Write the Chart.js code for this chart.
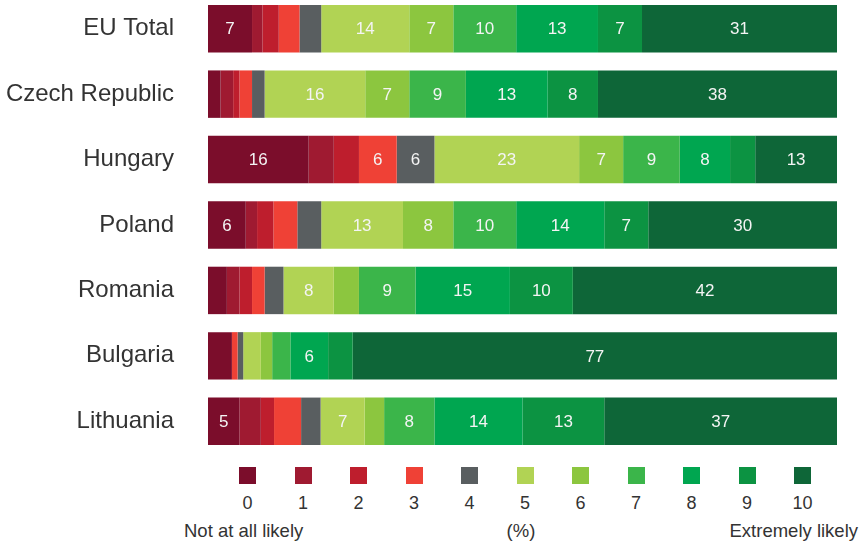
<!DOCTYPE html>
<html>
<head>
<meta charset="utf-8">
<script src="https://cdn.jsdelivr.net/npm/chart.js@4"></script>
<style>
  html, body { margin: 0; padding: 0; background: #fff; }
  body { width: 862px; height: 543px; position: relative; overflow: hidden; font-family: "Liberation Sans", Arial, sans-serif; color: #333; }
  #wrap { position: absolute; left: 0; top: -4px; width: 862px; height: 458px; }
  .key { position: absolute; top: 467px; width: 17px; height: 17px; }
  .num { position: absolute; top: 494px; width: 40px; text-align: center; font-size: 18px; line-height: 18px; }
  .foot { position: absolute; top: 522px; font-size: 18.5px; line-height: 18.5px; white-space: nowrap; }
</style>
</head>
<body>
<div id="wrap"><canvas id="likelyChart"></canvas></div>
<div id="legend"></div>
<div class="foot" style="left:184px">Not at all likely</div>
<div class="foot" style="left:521px; transform:translateX(-50%)">(%)</div>
<div class="foot" style="right:4px">Extremely likely</div>

<script>
// score 0 (not at all likely) .. 10 (extremely likely)
const scores = ["0", "1", "2", "3", "4", "5", "6", "7", "8", "9", "10"];
const countries = ["EU Total", "Czech Republic", "Hungary", "Poland", "Romania", "Bulgaria", "Lithuania"];

// share of answers per score, %
const euTotal   = [7, 1.65, 2.6, 3.3, 3.45, 14, 7, 10, 13, 7, 31];
const czech     = [2, 2, 1, 2, 2, 16, 7, 9, 13, 8, 38];
const hungary   = [16, 4, 4, 6, 6, 23, 7, 9, 8, 4, 13];
const poland    = [6, 1.8, 2.6, 3.8, 3.8, 13, 8, 10, 14, 7, 30];
const romania   = [3, 2, 2, 2, 3, 8, 4, 9, 15, 10, 42];
const bulgaria  = [3.8, 0, 0, 0.9, 0.9, 2.8, 1.8, 2.9, 6, 3.9, 77];
const lithuania = [5, 3.4, 2.1, 4.3, 3.1, 7, 3.1, 8, 14, 13, 37];

const rows = [euTotal, czech, hungary, poland, romania, bulgaria, lithuania];

const colors = ["#7b0d2b", "#9f1a31", "#be1e2d", "#ef4136", "#595e60",
                "#b1d354", "#8cc63f", "#3bb54a", "#00a650", "#0c9342", "#0e6638"];

// one dataset per score, stacked across each country bar
const datasets = scores.map((s, i) => ({
    label: s,
    data: rows.map(r => r[i]),
    backgroundColor: colors[i],
    borderWidth: 0,
    categoryPercentage: 1,
    barPercentage: 0.725
}));

// white value labels inside the wider segments
const segmentLabels = {
    id: "segmentLabels",
    afterDatasetsDraw(chart) {
        const ctx = chart.ctx;
        ctx.save();
        ctx.font = "17px 'Liberation Sans', Arial, sans-serif";
        ctx.fillStyle = "#f4f4f4";
        ctx.textAlign = "center";
        ctx.textBaseline = "middle";
        chart.data.datasets.forEach((ds, di) => {
            chart.getDatasetMeta(di).data.forEach((bar, i) => {
                const v = ds.data[i];
                if (v < 5) return;
                const p = bar.getProps(["x", "y", "base"], true);
                ctx.fillText(String(v), (p.x + p.base) / 2, p.y + 1);
            });
        });
        ctx.restore();
    }
};

new Chart(document.getElementById("likelyChart"), {
    type: "bar",
    data: { labels: countries, datasets: datasets },
    options: {
        indexAxis: "y",
        responsive: true,
        maintainAspectRatio: false,
        animation: false,
        layout: { padding: { left: 0, right: 25, top: 0, bottom: 0 } },
        plugins: { legend: { display: false }, tooltip: { enabled: false } },
        scales: {
            x: { stacked: true, min: 0, max: 100, display: false },
            y: {
                stacked: true,
                grid: { display: false, drawTicks: false },
                border: { display: false },
                ticks: {
                    padding: 34,
                    color: "#333",
                    font: { family: "'Liberation Sans', Arial, sans-serif", size: 24 }
                },
                afterFit(scale) {
                    // fixed gutter for the country names, no extra top/bottom margin
                    scale.width = 208;
                    scale.paddingTop = 0;
                    scale.paddingBottom = 0;
                }
            }
        }
    },
    plugins: [segmentLabels]
});

// score key under the bars
const legend = document.getElementById("legend");
scores.forEach((s, i) => {
    const cx = 247.5 + i * 55.5;
    const box = document.createElement("div");
    box.className = "key";
    box.style.left = (cx - 8.5) + "px";
    box.style.background = colors[i];
    legend.appendChild(box);
    const num = document.createElement("div");
    num.className = "num";
    num.style.left = (cx - 20) + "px";
    num.textContent = s;
    legend.appendChild(num);
});
</script>
</body>
</html>
